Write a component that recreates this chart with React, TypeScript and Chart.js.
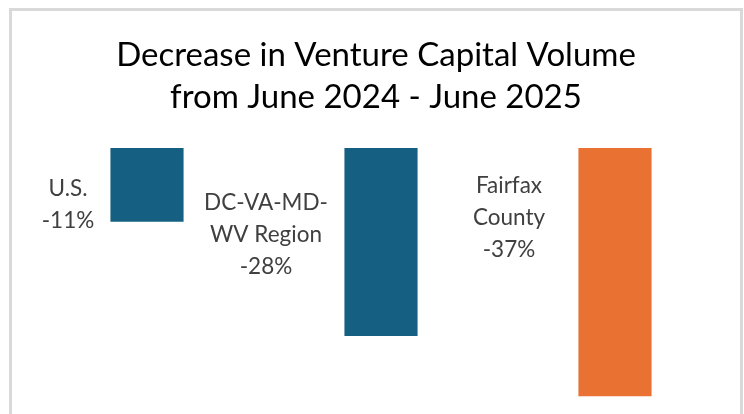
import React, { useEffect, useRef } from "react";
import { Chart, registerables } from "chart.js";

Chart.register(...registerables);

const TITLE_LINES = ["Decrease in Venture Capital Volume", "from June 2024 - June 2025"];
const CATEGORY_LINES = [["U.S."], ["DC-VA-MD-", "WV Region"], ["Fairfax", "County"]];
const CHANGE_PCT = [-11, -28, -37];
const BAR_COLORS = ["#156082", "#156082", "#E97132"];
const Y_MIN = -38;
const Y_MAX = 0;

// label placement relative to each bar (px): horizontal offset of label centre, first baseline below zero line
const LABEL_DX = [-79, -115, -106];
const LABEL_DY = [48, 62, 45];

const FONT_FAMILY = "Lato, 'Open Sans', sans-serif";

const textPlugin = {
  id: "customText",
  afterDraw(chart: any) {
    const ctx = chart.ctx;
    ctx.save();
    // title
    ctx.fillStyle = "#000000";
    ctx.font = `33px ${FONT_FAMILY}`;
    ctx.textAlign = "center";
    ctx.textBaseline = "alphabetic";
    TITLE_LINES.forEach((line, i) => {
      ctx.fillText(line, 376, 66 + i * 42);
    });
    // data labels
    const meta = chart.getDatasetMeta(0);
    const y0 = chart.scales.y.getPixelForValue(0);
    ctx.fillStyle = "#404040";
    ctx.font = `22.5px ${FONT_FAMILY}`;
    meta.data.forEach((bar: any, i: number) => {
      const lines = [...CATEGORY_LINES[i], `${CHANGE_PCT[i]}%`];
      const x = bar.x + LABEL_DX[i];
      lines.forEach((line, j) => {
        ctx.fillText(line, x, y0 + LABEL_DY[i] + j * 32);
      });
    });
    ctx.restore();
  },
};

export default function App() {
  const canvasRef = useRef<HTMLCanvasElement | null>(null);

  useEffect(() => {
    if (!canvasRef.current) return;
    const chart = new Chart(canvasRef.current, {
      type: "bar",
      data: {
        labels: CATEGORY_LINES.map((l) => l.join(" ")),
        datasets: [
          {
            data: CHANGE_PCT,
            backgroundColor: BAR_COLORS,
            borderWidth: 0,
            categoryPercentage: 1,
            barPercentage: 0.3126,
          },
        ],
      },
      options: {
        animation: false,
        responsive: false,
        maintainAspectRatio: false,
        layout: { padding: { top: 148, left: 30, right: 12, bottom: 11 } },
        plugins: {
          legend: { display: false },
          title: { display: false },
          tooltip: { enabled: false },
        },
        scales: {
          x: { display: false },
          y: { display: false, min: Y_MIN, max: Y_MAX },
        },
      },
      plugins: [textPlugin],
    });
    return () => chart.destroy();
  }, []);

  return (
    <div
      style={{
        position: "fixed",
        left: 0,
        top: 0,
        width: 744,
        height: 414,
        overflow: "hidden",
        background: "#ffffff",
      }}
    >
      <canvas ref={canvasRef} width={744} height={414} style={{ position: "absolute", left: 0, top: 0 }} />
      <div
        style={{
          position: "absolute",
          left: 9,
          top: 8,
          width: 734,
          height: 430,
          border: "3px solid #d9d9d9",
          boxSizing: "border-box",
          pointerEvents: "none",
        }}
      />
    </div>
  );
}
